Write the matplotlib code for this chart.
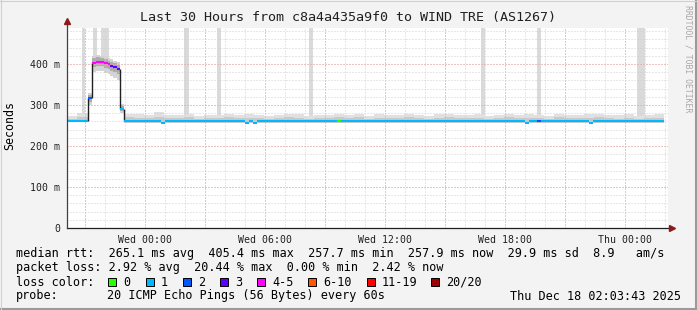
import numpy as np
import matplotlib.pyplot as plt
from matplotlib.patches import Rectangle

plt.rcParams['font.family'] = 'DejaVu Sans Mono'

W, H = 697, 310

# median rtt segments (hours from Wed 00:00, ms, loss colour index)
seg_t0 = [-3.9, -2.85, -2.65, -2.45, -2.25, -2.05, -1.85, -1.75, -1.6, -1.4,
          -1.25, -1.05, 0.78, 1.0, 5.0, 5.22, 5.38, 5.6, 9.6, 9.8,
          19.0, 19.2, 19.6, 19.8, 22.2, 22.4]
seg_t1 = seg_t0[1:] + [25.95]
seg_med = [260, 317, 403, 405, 405, 402, 399, 396, 393, 389,
           290, 260, 257, 260, 257, 260, 257, 260, 260, 260,
           257, 260, 260, 260, 257, 260]
seg_loss = [1, 2, 4, 4, 4, 4, 4, 3, 3, 3,
            1, 1, 1, 1, 1, 1, 1, 1, 0, 1,
            1, 1, 2, 1, 1, 1]

# smoke around the step/pulse (segments 1..10)
pulse_out_lo = [300, 380, 383, 382, 379, 375, 371, 367, 362, 280]
pulse_in_lo = [308, 393, 395, 394, 391, 387, 384, 381, 376, 285]
pulse_in_hi = [324, 414, 416, 414, 411, 408, 405, 402, 398, 297]
pulse_out_hi = [330, 420, 422, 420, 417, 414, 411, 408, 404, 303]

# smoke on the flat part: two bins before the pulse, half hour bins after
pre_t = [-3.9, -3.4, -2.85]
pre_out = [273, 280]
pre_in = [267, 270]
post_start = -1.05
smoke_out = [277, 277, 275, 282, 276, 276, 278, 274, 276, 275,
             278, 276, 277, 275, 273, 276, 279, 277, 274, 276,
             275, 278, 276, 279, 274, 277, 276, 275, 278, 276,
             274, 277, 279, 276, 275, 277, 274, 276, 278, 275,
             277, 276, 274, 278, 276, 275, 277, 279, 276, 275,
             277, 274, 276, 277]
smoke_in = [270, 269, 268, 271, 268, 269, 270, 267, 269, 268,
            270, 268, 269, 268, 266, 269, 271, 269, 267, 268,
            268, 270, 268, 270, 267, 269, 268, 268, 270, 269,
            267, 269, 270, 268, 268, 269, 267, 268, 270, 268,
            269, 268, 267, 270, 268, 268, 269, 271, 268, 267,
            269, 267, 268, 269]

# tall spikes of max rtt
spike_t0 = [-3.15, -2.62, -2.2, 1.97, 3.62, 8.2, 16.78, 19.58, 24.62]
spike_t1 = [-3.0, -2.42, -1.82, 2.2, 3.78, 8.38, 17.0, 19.78, 25.0]
spike_base = [262, 400, 400, 262, 262, 262, 262, 262, 262]

xtick_pos = [0, 6, 12, 18, 24]
xtick_lab = ['Wed 00:00', 'Wed 06:00', 'Wed 12:00', 'Wed 18:00', 'Thu 00:00']
ytick_pos = [0, 100, 200, 300, 400]
ytick_lab = ['0', '100 m', '200 m', '300 m', '400 m']

loss_col = ['#26ff00', '#00b8ff', '#0059ff', '#5e00ff', '#ff00ff',
            '#ff5500', '#ff0000', '#a00000']
loss_lab = ['0', '1', '2', '3', '4-5', '6-10', '11-19', '20/20']
box_x = [108, 145.5, 182.5, 219.5, 257, 307.5, 366.5, 431]

x0, x1 = -3.9, 26.15
y0, y1 = 0, 487.8


def fx(x):
    return x / W


def fy(y):
    return 1 - y / H


fig = plt.figure(figsize=(W / 100, H / 100), dpi=100, facecolor='#f3f3f3')
ax = fig.add_axes([fx(67), fy(228), (668 - 67) / W, 200 / H])
ax.set_facecolor('white')
ax.set_xlim(x0, x1)
ax.set_ylim(y0, y1)
for s in ax.spines.values():
    s.set_visible(False)

# spikes
for a, b, base in zip(spike_t0, spike_t1, spike_base):
    ax.fill_between([a, b], base, y1, color='#dadada', lw=0, zorder=1)

# flat smoke
for i in range(len(pre_out)):
    ax.fill_between([pre_t[i], pre_t[i + 1]], 258, pre_out[i], color='#e0e0e0', lw=0, zorder=2)
    ax.fill_between([pre_t[i], pre_t[i + 1]], 258, pre_in[i], color='#c9c9c9', lw=0, zorder=2)
for i in range(len(smoke_out)):
    a = post_start + 0.5 * i
    b = min(a + 0.5, seg_t1[-1])
    ax.fill_between([a, b], 256, smoke_out[i], color='#e0e0e0', lw=0, zorder=2)
    ax.fill_between([a, b], 256, smoke_in[i], color='#c9c9c9', lw=0, zorder=2)

# pulse smoke
for k in range(len(pulse_out_lo)):
    i = k + 1
    ax.fill_between([seg_t0[i], seg_t1[i]], pulse_out_lo[k], pulse_out_hi[k],
                    color='#d4d4d4', lw=0, zorder=2)
    ax.fill_between([seg_t0[i], seg_t1[i]], pulse_in_lo[k], pulse_in_hi[k],
                    color='#acacac', lw=0, zorder=2)

# grid
for h in np.arange(-3, 27, 1):
    ax.axvline(h, color='#d0d0d0', lw=0.72, ls=(0, (1, 2)), zorder=3)
for h in np.arange(-3, 27, 3):
    ax.axvline(h, color='#f0a0a0', lw=0.72, ls=(0, (1, 2)), zorder=3)
for v in np.arange(20, 481, 20):
    ax.axhline(v, color='#d0d0d0', lw=0.72, ls=(0, (1, 2)), zorder=3)
for v in np.arange(100, 401, 100):
    ax.axhline(v, color='#f0a0a0', lw=0.72, ls=(0, (1, 2)), zorder=3)

# median line: black joins on big steps, coloured segments
for i in range(len(seg_med) - 1):
    if abs(seg_med[i + 1] - seg_med[i]) > 10:
        ax.vlines(seg_t1[i], seg_med[i], seg_med[i + 1], color='#202020', lw=1.0, zorder=4)
for a, b, m, l in zip(seg_t0, seg_t1, seg_med, seg_loss):
    ax.hlines(m, a, b, color=loss_col[l], lw=1.5, zorder=5)

# axes with arrows
ax.plot([x0, 26.2], [0, 0], color='#202020', lw=0.9, clip_on=False, zorder=6)
ax.plot([x0, x0], [0, 500], color='#404040', lw=0.9, clip_on=False, zorder=6)
ax.plot([26.35], [0], marker='>', color='#8b1a1a', ms=5, clip_on=False, zorder=7)
ax.plot([x0], [505], marker='^', color='#8b1a1a', ms=5, clip_on=False, zorder=7)

ax.set_xticks(xtick_pos, xtick_lab, fontsize=7.1)
ax.set_yticks(ytick_pos, ytick_lab, fontsize=7.1)
ax.tick_params(axis='x', length=0, pad=5, colors='#202020')
ax.tick_params(axis='y', length=0, pad=5, colors='#202020')
fig.text(fx(10), fy(126), 'Seconds', rotation=90, ha='center', va='center', fontsize=8.4)

fig.text(fx(348), fy(18), 'Last 30 Hours from c8a4a435a9f0 to WIND TRE (AS1267)',
         ha='center', va='center', fontsize=9.6, color='#202020')
fig.text(fx(688), fy(59), 'RRDTOOL / TOBI OETIKER', rotation=270,
         ha='center', va='center', fontsize=5.9, color='#a8a8a8')

# legend
fs = 8.45
fig.text(fx(16), fy(254), 'median rtt:  265.1 ms avg  405.4 ms max  257.7 ms min  '
         '257.9 ms now  29.9 ms sd  8.9   am/s', va='center', fontsize=fs)
fig.text(fx(16), fy(268), 'packet loss: 2.92 % avg  20.44 % max  0.00 % min  2.42 % now',
         va='center', fontsize=fs)
fig.text(fx(16), fy(282), 'loss color:', va='center', fontsize=fs)
for bx, c, lab in zip(box_x, loss_col, loss_lab):
    fig.patches.append(Rectangle((fx(bx), fy(286)), 8 / W, 8 / H, transform=fig.transFigure,
                                 facecolor=c, edgecolor='black', lw=0.7))
    fig.text(fx(bx + 15.5), fy(282), lab, va='center', fontsize=fs)
fig.text(fx(16), fy(296), 'probe:', va='center', fontsize=fs)
fig.text(fx(107), fy(296), '20 ICMP Echo Pings (56 Bytes) every 60s', va='center', fontsize=fs)
fig.text(fx(681), fy(296), 'Thu Dec 18 02:03:43 2025', ha='right', va='center', fontsize=fs)

# image frame
fig.add_artist(plt.Line2D([0, 1], [fy(309), fy(309)], color='#9a9a9a', lw=1.5, transform=fig.transFigure))
fig.add_artist(plt.Line2D([fx(696), fx(696)], [0, 1], color='#9a9a9a', lw=1.5, transform=fig.transFigure))
fig.add_artist(plt.Line2D([0, 1], [fy(0.5), fy(0.5)], color='#d0d0d0', lw=0.8, transform=fig.transFigure))
fig.add_artist(plt.Line2D([fx(0.5), fx(0.5)], [0, 1], color='#d0d0d0', lw=0.8, transform=fig.transFigure))

fig.savefig('out.png', dpi=100, facecolor=fig.get_facecolor())
